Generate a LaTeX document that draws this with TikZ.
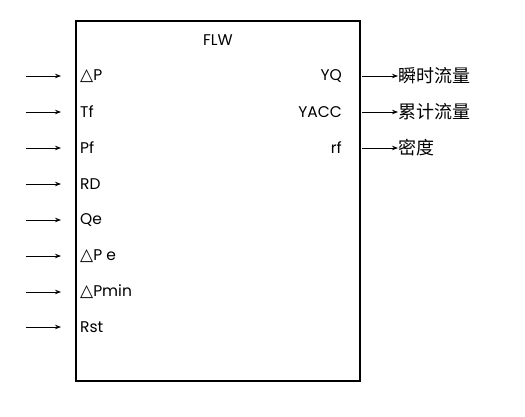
\documentclass[tikz,border=0pt]{standalone}
\usepackage{fontspec}
\setmainfont{Poppins}
\newfontfamily\cjk{Noto Sans CJK SC}
\newfontfamily\symf{DejaVu Sans}
\usetikzlibrary{arrows.meta}
\newcommand{\tri}{{\symf\fontsize{17}{17}\selectfont △}}
\begin{document}
\begin{tikzpicture}[x=1pt,y=-1pt,
  lbl/.style={font=\fontsize{15.5}{18}\selectfont, inner sep=0pt},
  clbl/.style={font=\cjk\fontsize{18}{20}\selectfont, inner sep=0pt, anchor=west},
  arr/.style={-{Stealth[length=6pt,width=4.5pt]}, line width=0.8pt}]
\useasboundingbox (0,0) rectangle (525,416);
\draw[line width=2pt] (76,21) rectangle (360,381);
\node[lbl] (flw) at (218,40) {FLW};
\foreach \n/\y/\t in {a/76/{\tri P}, b/112/Tf, c/148/Pf, d/184/RD, e/220/Qe, f/256/{\tri P e}, g/292/{\tri Pmin}, h/327/Rst}{
  \coordinate (s\n) at (26,\y);
  \coordinate (e\n) at (61,\y);
  \node[lbl, anchor=west] (i\n) at (80,\y) {\t};
  \draw[arr] (s\n) -- (e\n);
}
\foreach \n/\y/\t/\c in {a/76/YQ/瞬时流量, b/112/YACC/累计流量, c/148/rf/密度}{
  \node[lbl, anchor=east] (o\n) at (342,\y) {\t};
  \coordinate (p\n) at (362,\y);
  \node[clbl] (c\n) at (398,\y) {\c};
  \draw[arr] (p\n) -- (c\n.west);
}
\end{tikzpicture}
\end{document}
